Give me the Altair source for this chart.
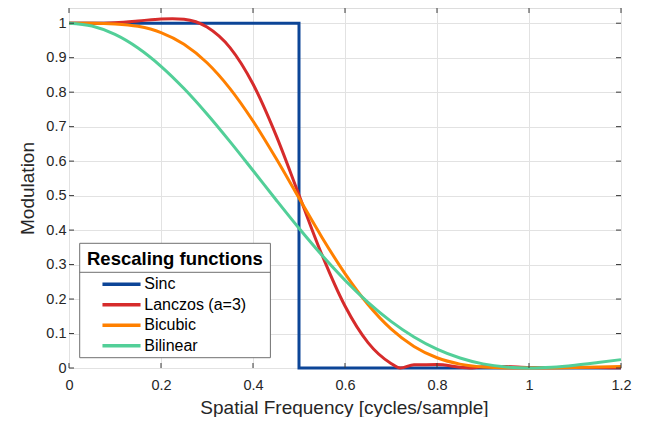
import altair as alt
import pandas as pd

FONT = "Liberation Sans"

# ---- data ----
freq = [0.00, 0.05, 0.10, 0.15, 0.20, 0.25, 0.30, 0.35, 0.40, 0.45, 0.50, 0.55,
        0.60, 0.65, 0.70, 0.75, 0.80, 0.85, 0.90, 0.95, 1.00, 1.05, 1.10, 1.15, 1.20]

bilinear = [1.0, 0.9918, 0.9675, 0.9281, 0.8751, 0.8106, 0.7368, 0.6566, 0.5728,
            0.4881, 0.4053, 0.3268, 0.2546, 0.1904, 0.1353, 0.0901, 0.0547, 0.0289,
            0.0119, 0.0028, 0.0, 0.0023, 0.0080, 0.0158, 0.0243]

bicubic = [1.0, 0.9999, 0.9980, 0.9910, 0.9729, 0.9390, 0.8853, 0.8104, 0.7163,
           0.6081, 0.4928, 0.3787, 0.2738, 0.1842, 0.1135, 0.0626, 0.0297, 0.0113,
           0.0029, 0.0003, 0.0, 0.0002, 0.0012, 0.0028, 0.0044]

lanczos_f = [0.00, 0.05, 0.10, 0.15, 0.20, 0.225, 0.25, 0.30, 0.35, 0.40, 0.45, 0.50,
             0.55, 0.60, 0.65, 0.70, 0.72, 0.75, 0.80, 0.85, 0.87, 0.90, 0.95, 1.00,
             1.05, 1.10, 1.15, 1.20]
lanczos = [1.0, 1.0000, 1.0015, 1.0063, 1.0125, 1.0132, 1.0116, 0.9888, 0.9291,
           0.8235, 0.6753, 0.5017, 0.3280, 0.1797, 0.0736, 0.0133, 0.0, 0.0096,
           0.0098, 0.0022, 0.0, 0.0034, 0.0041, 0.0014, 0.0012, 0.0020, 0.0011, 0.0004]

sinc_f = [0.0, 0.5, 0.5, 1.2]
sinc = [1.0, 1.0, 0.0, 0.0]

series = ["Sinc", "Lanczos (a=3)", "Bicubic", "Bilinear"]
colors = ["#0c4597", "#d62b2b", "#ff8000", "#52cf98"]

x_ticks = [0, 0.2, 0.4, 0.6, 0.8, 1.0, 1.2]
y_ticks = [0, 0.1, 0.2, 0.3, 0.4, 0.5, 0.6, 0.7, 0.8, 0.9, 1.0]

# ---- tables ----
rows = []
for name, fs, vs in [("Sinc", sinc_f, sinc), ("Lanczos (a=3)", lanczos_f, lanczos),
                     ("Bicubic", freq, bicubic), ("Bilinear", freq, bilinear)]:
    for i, (f, v) in enumerate(zip(fs, vs)):
        rows.append({"series": name, "f": f, "v": v, "idx": i})
df = pd.DataFrame(rows)

xtick_df = pd.DataFrame({"f": x_ticks})
ytick_df = pd.DataFrame({"v": y_ticks})

W, H = 552, 360
TXT = "#262626"
GRID = "#e2e2e2"
BOX = "#3a3a3a"

x_scale = alt.Scale(domain=[0, 1.2], nice=False, zero=False)
y_scale = alt.Scale(domain=[0, 1.0441], nice=False, zero=False)

x_axis = alt.Axis(values=x_ticks, format="~g", labelFlush=False, ticks=False, tickSize=0,
                  domain=False, grid=True, gridColor=GRID, gridWidth=1,
                  labelFont=FONT, labelFontSize=14.5, labelColor=TXT, labelPadding=10,
                  title="Spatial Frequency [cycles/sample]", titleFont=FONT,
                  titleFontSize=19, titleFontWeight="normal", titleColor=TXT,
                  titleX=275, titleY=45, titleBaseline="alphabetic")
y_axis = alt.Axis(values=y_ticks, format="~g", labelFlush=False, ticks=False, tickSize=0,
                  domain=False, grid=True, gridColor=GRID, gridWidth=1,
                  labelFont=FONT, labelFontSize=14.5, labelColor=TXT, labelPadding=3,
                  title="Modulation", titleFont=FONT, titleFontSize=19,
                  titleFontWeight="normal", titleColor=TXT, titleAngle=270,
                  titleX=-35.5, titleY=180, titleBaseline="alphabetic", titleAlign="center")

x_enc = alt.X("f:Q", scale=x_scale, axis=x_axis)
y_enc = alt.Y("v:Q", scale=y_scale, axis=y_axis)

legend = alt.Legend(
    title="Rescaling functions", orient="none", legendX=18, legendY=241.7,
    titleFont=FONT, titleFontSize=18.5, titleFontWeight="bold", titleColor="black",
    titleAnchor="start", titlePadding=8.1, padding=0,
    labelFont=FONT, labelFontSize=16, labelColor="black",
    symbolType="M-5,0H5", symbolSize=58, symbolStrokeWidth=3.5,
    symbolOffset=26.5, labelOffset=14.8, rowPadding=4.5,
)
color_enc = alt.Color("series:N", scale=alt.Scale(domain=series, range=colors), legend=legend)

# legend frame drawn behind the legend
one = alt.Data(values=[{"k": 1}])
frame = alt.Chart(one).mark_rect(fill="white", stroke="#707070", strokeWidth=1).encode(
    x=alt.value(10.7), x2=alt.value(201.4), y=alt.value(235.3), y2=alt.value(349.7))
sep = alt.Chart(one).mark_rule(color="#707070", strokeWidth=1).encode(
    x=alt.value(10.7), x2=alt.value(201.4), y=alt.value(264.3))

layers = [frame, sep]
for name in series:
    interp = "linear" if name == "Sinc" else "monotone"
    layers.append(
        alt.Chart(df).transform_filter(alt.datum.series == name)
        .mark_line(strokeWidth=3, interpolate=interp, strokeJoin="miter")
        .encode(x=x_enc, y=y_enc, color=color_enc, order="idx:Q")
    )

TL = 5
xt_bottom = alt.Chart(xtick_df).mark_rule(color=BOX, strokeWidth=1).encode(
    x=x_enc, y=alt.value(H), y2=alt.value(H - TL))
xt_top = alt.Chart(xtick_df).mark_rule(color=BOX, strokeWidth=1).encode(
    x=x_enc, y=alt.value(0), y2=alt.value(TL))
yt_left = alt.Chart(ytick_df).mark_rule(color=BOX, strokeWidth=1).encode(
    y=y_enc, x=alt.value(0), x2=alt.value(TL))
yt_right = alt.Chart(ytick_df).mark_rule(color=BOX, strokeWidth=1).encode(
    y=y_enc, x=alt.value(W - TL), x2=alt.value(W))
layers += [xt_bottom, xt_top, yt_left, yt_right]

chart = alt.layer(*layers).properties(
    width=W, height=H,
    padding={"left": 61, "top": 0, "right": 20, "bottom": 49},
    autosize=alt.AutoSizeParams(type="none"),
).configure_view(stroke=BOX, strokeWidth=1).configure(font=FONT, background="white")

chart.save("out.html", embed_options={"renderer": "svg", "actions": False})
